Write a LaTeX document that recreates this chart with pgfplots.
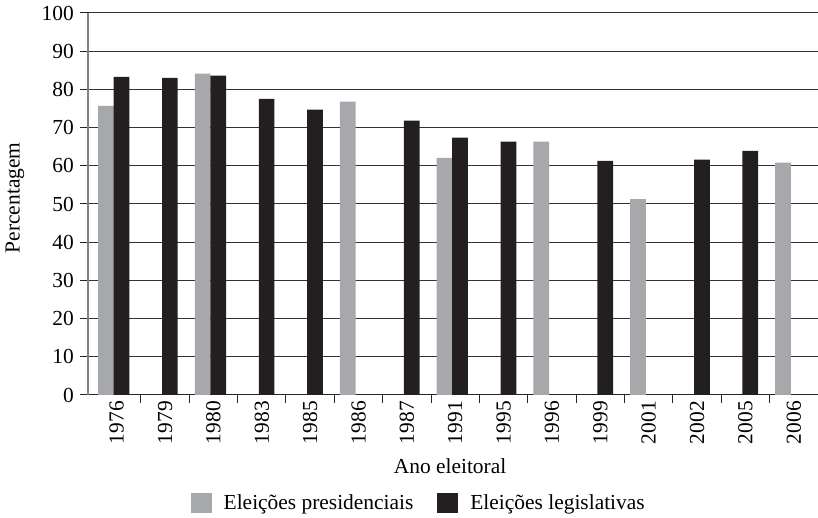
\documentclass[border=0pt]{standalone}
\usepackage{fontspec}
\setmainfont{Liberation Serif}
\usepackage{pgfplots}
\pgfplotsset{compat=1.18}
\definecolor{pres}{HTML}{A7A8AB}
\definecolor{legis}{HTML}{231F20}
\begin{document}
\begin{tikzpicture}[x=1bp,y=1bp,font=\fontsize{21.5}{24}\selectfont]
\begin{axis}[
    scale only axis, width=730bp, height=382bp,
    at={(0,0)}, anchor=south west,
    xmin=-0.593, xmax=14.5,
    ymin=0, ymax=100,
    axis x line=bottom, axis y line=left,
    axis line style={-},
    x axis line style={black!85, line width=1bp},
    y axis line style={black!50, line width=1.2bp},
    ytick={0,10,...,100},
    xtick={0.5,1.5,...,13.5},
    xticklabels={},
    extra x ticks={0,1,...,14},
    extra x tick labels={1976,1979,1980,1983,1985,1986,1987,1991,1995,1996,1999,2001,2002,2005,2006},
    extra x tick style={major tick length=0pt, grid=none,
        xticklabel style={rotate=90, anchor=east, inner sep=0pt}},
    xticklabel shift=6bp,
    tick align=outside,
    major tick length=8bp,
    tick style={black!85, line width=1bp},
    ymajorgrids=true,
    grid style={black!80, line width=1bp},
    /pgf/number format/assume math mode=true,
    ticklabel style={font=\fontsize{21.5}{24}\selectfont},
    yticklabel style={inner sep=0pt, xshift=-6bp},
    xlabel={Ano eleitoral},
    ylabel={Percentagem},
    xlabel style={at={(axis description cs:0.496,-0.186)}, anchor=center, font=\fontsize{21.5}{24}\selectfont},
    ylabel style={at={(axis description cs:-0.1,0.516)}, anchor=center, font=\fontsize{21.5}{24}\selectfont},
    legend columns=2,
    legend style={at={(axis description cs:0.453,-0.283)}, anchor=center, draw=none,
        font=\fontsize{21.5}{24}\selectfont,
        /tikz/every odd column/.append style={column sep=10bp},
        /tikz/every even column/.append style={column sep=22bp}},
    legend image code/.code={\fill[#1] (0bp,-10bp) rectangle (21bp,10bp);},
]
\addplot[ybar, bar width=0.325, bar shift=-0.223, fill=pres, draw=none]
    coordinates {(0,75.7) (2,84.1) (5,76.8) (7,62.1) (9,66.3) (11,51.3) (14,60.8)};
\addplot[ybar, bar width=0.325, bar shift=0.1, fill=legis, draw=none]
    coordinates {(0,83.3) (1,83.0) (2,83.6) (3,77.5) (4,74.7) (6,71.8) (7,67.4) (8,66.3) (10,61.3) (12,61.6) (13,63.9)};
\legend{Eleições presidenciais, Eleições legislativas}
\end{axis}
\pgfresetboundingbox
\path[use as bounding box] (-88,-123) rectangle (730,395);
\end{tikzpicture}
\end{document}
